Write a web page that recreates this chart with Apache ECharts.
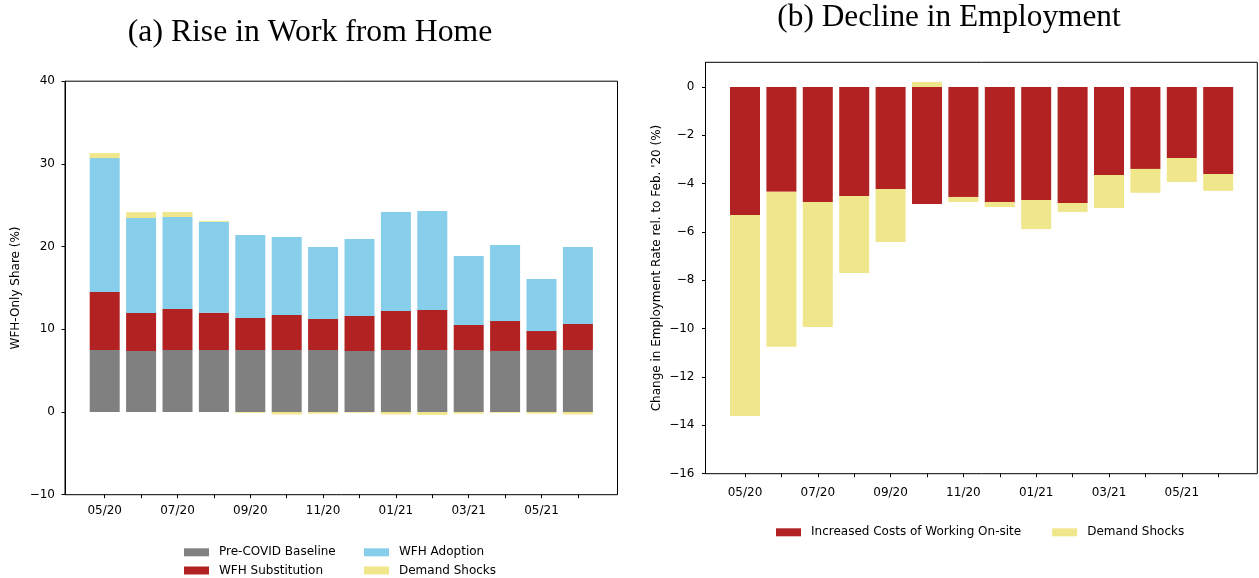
<!DOCTYPE html>
<html>
<head>
<meta charset="utf-8">
<script src="https://cdn.jsdelivr.net/npm/echarts@6/dist/echarts.min.js"></script>
<style>
  html, body { margin: 0; padding: 0; background: #fff; }
  #chart { width: 1259px; height: 578px; }
</style>
</head>
<body>
<div id="chart"></div>
<script>
// Monthly categories shared by both panels
const months = ['05/20', '06/20', '07/20', '08/20', '09/20', '10/20', '11/20',
                '12/20', '01/21', '02/21', '03/21', '04/21', '05/21', '06/21'];

// Panel (a): decomposition of the WFH-only share (%)
const preCovidBaseline = [7.5, 7.38, 7.5, 7.5, 7.5, 7.5, 7.5, 7.38, 7.5, 7.5, 7.5, 7.38, 7.5, 7.5];
const wfhSubstitution  = [7.0, 4.59, 4.95, 4.5, 3.87, 4.23, 3.75, 4.23, 4.71, 4.83, 3.02, 3.62, 2.29, 3.14];
const wfhAdoption      = [16.2, 11.49, 11.13, 11.0, 10.03, 9.43, 8.7, 9.31, 11.97, 11.97, 8.34, 9.19, 6.29, 9.31];
const demandShocksWfh  = [0.6, 0.7, 0.6, 0.12, -0.1, -0.3, -0.2, -0.08, -0.3, -0.35, -0.2, -0.1, -0.2, -0.3];

// Panel (b): change in employment rate relative to Feb. 2020 (%)
const increasedCosts   = [-5.30, -4.34, -4.76, -4.51, -4.22, -4.84, -4.55, -4.76, -4.68, -4.80, -3.64, -3.39, -2.94, -3.60];
const demandShocksEmp  = [-8.31, -6.41, -5.17, -3.19, -2.19, 0.21, -0.21, -0.21, -1.20, -0.37, -1.37, -0.99, -0.99, -0.70];

// Axis tick values
const ticksA = [-10, 0, 10, 20, 30, 40];
const ticksB = [-16, -14, -12, -10, -8, -6, -4, -2, 0];

const COLORS = {
  baseline: '#808080',
  substitution: '#b22222',
  adoption: '#87ceeb',
  demand: '#f0e68c'
};

const FONT = 'DejaVu Sans';
const minusFmt = v => String(v).replace('-', '\u2212');

const frameA = { left: 65, top: 81.2, width: 552.5, height: 413.5 };
const barsA  = { left: 86.5, top: 81.2, width: 509.6, height: 413.5 };
const frameB = { left: 705.5, top: 62.3, width: 551.8, height: 411.4 };
const barsB  = { left: 726.8, top: 62.3, width: 509.6, height: 411.4 };
const yMaxB = 1.02;

function frameGrid(g) {
  return Object.assign({ show: true, borderColor: '#000', borderWidth: 1, backgroundColor: 'transparent' }, g);
}
function plainGrid(g) {
  return Object.assign({ show: false }, g);
}

function valueYAxis(gridIndex, min, max, ticks, name, labelMargin) {
  return {
    type: 'value', gridIndex, min, max,
    name, nameLocation: 'middle', nameGap: 43,
    nameTextStyle: { fontFamily: FONT, fontSize: 12, color: '#000' },
    axisLine: { show: true, onZero: false, lineStyle: { color: '#000', width: 1 } },
    axisTick: { show: true, inside: false, length: 3.5, lineStyle: { color: '#000', width: 1 }, customValues: ticks },
    axisLabel: { show: true, margin: labelMargin, fontFamily: FONT, fontSize: 12, color: '#000', formatter: minusFmt, customValues: ticks },
    splitLine: { show: false }
  };
}
function hiddenYAxis(gridIndex, min, max) {
  return { type: 'value', gridIndex, min, max, show: false, splitLine: { show: false } };
}
function hiddenXAxis(gridIndex) {
  return { type: 'value', gridIndex, min: 0, max: 1, show: false, splitLine: { show: false } };
}
function categoryXAxis(gridIndex, labelMargin) {
  return {
    type: 'category', gridIndex, data: months, boundaryGap: true, position: 'bottom',
    axisLine: { show: false, onZero: false },
    axisTick: { show: true, alignWithLabel: true, interval: 0, length: 3.5, lineStyle: { color: '#000', width: 1 } },
    axisLabel: { interval: 1, margin: labelMargin, fontFamily: FONT, fontSize: 12, color: '#000' },
    splitLine: { show: false }
  };
}

function barSeries(name, data, color, xi, yi, stack) {
  return {
    name, type: 'bar', data, stack, xAxisIndex: xi, yAxisIndex: yi,
    barWidth: 30, itemStyle: { color }, animation: false,
    emphasis: { disabled: true }
  };
}

const legendText = { fontFamily: FONT, fontSize: 12, color: '#000', lineHeight: 14, padding: [0, 0, 0, 5] };

const option = {
  animation: false,
  backgroundColor: '#fff',
  title: [
    { text: '(a) Rise in Work from Home', left: 305, top: 12, textAlign: 'center',
      textStyle: { fontFamily: 'Liberation Serif', fontSize: 31.7, fontWeight: 'normal', color: '#000' } },
    { text: '(b) Decline in Employment', left: 944, top: -3, textAlign: 'center',
      textStyle: { fontFamily: 'Liberation Serif', fontSize: 31.3, fontWeight: 'normal', color: '#000' } }
  ],
  grid: [frameGrid(frameA), plainGrid(barsA), frameGrid(frameB), plainGrid(barsB)],
  xAxis: [hiddenXAxis(0), categoryXAxis(1, 10), hiddenXAxis(2), categoryXAxis(3, 13)],
  yAxis: [
    valueYAxis(0, -10, 40, ticksA, 'WFH-Only Share (%)', 10),
    hiddenYAxis(1, -10, 40),
    valueYAxis(2, -16, yMaxB, ticksB, "Change in Employment Rate rel. to Feb. '20 (%)", 11),
    hiddenYAxis(3, -16, yMaxB)
  ],
  legend: [
    { data: ['Pre-COVID Baseline', 'WFH Substitution'], orient: 'vertical', left: 184, top: 545.3,
      width: 170, height: 33, padding: 0,
      itemWidth: 25, itemHeight: 8, itemGap: 4.2, icon: 'rect', selectedMode: false, textStyle: legendText },
    { data: ['WFH Adoption', 'Demand Shocks'], orient: 'vertical', left: 364, top: 545.3,
      width: 170, height: 33, padding: 0,
      itemWidth: 25, itemHeight: 8, itemGap: 4.2, icon: 'rect', selectedMode: false, textStyle: legendText },
    { data: ['Increased Costs of Working On-site', 'Demand Shocks'], orient: 'horizontal', left: 776, top: 525.3,
      padding: 0,
      itemWidth: 25, itemHeight: 8, itemGap: 31, icon: 'rect', selectedMode: false, textStyle: legendText }
  ],
  series: [
    barSeries('Pre-COVID Baseline', preCovidBaseline, COLORS.baseline, 1, 1, 'wfh'),
    barSeries('WFH Substitution', wfhSubstitution, COLORS.substitution, 1, 1, 'wfh'),
    barSeries('WFH Adoption', wfhAdoption, COLORS.adoption, 1, 1, 'wfh'),
    barSeries('Demand Shocks', demandShocksWfh, COLORS.demand, 1, 1, 'wfh'),
    barSeries('Increased Costs of Working On-site', increasedCosts, COLORS.substitution, 3, 3, 'emp'),
    barSeries('Demand Shocks', demandShocksEmp, COLORS.demand, 3, 3, 'emp')
  ]
};

const chart = echarts.init(document.getElementById('chart'), null, { renderer: 'canvas' });
chart.setOption(option);
</script>
</body>
</html>
